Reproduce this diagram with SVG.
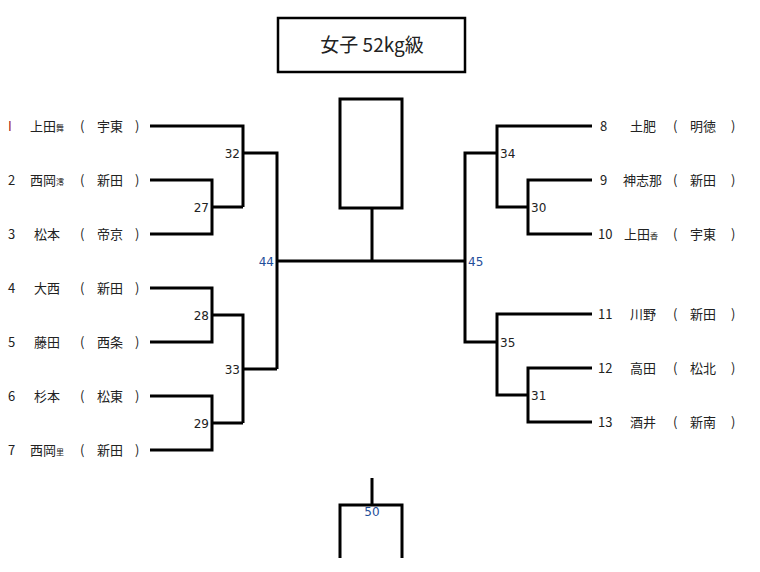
<svg xmlns="http://www.w3.org/2000/svg" width="760" height="572" viewBox="0 0 760 572">
<style>
.l{fill:none;stroke:#000;stroke-width:3}
text{font-family:"Noto Sans CJK JP","Liberation Sans",sans-serif;font-size:13px;fill:#222}
.s{font-size:8px}
.n{font-size:12px;font-family:"DejaVu Sans","Liberation Sans",sans-serif}
.b{fill:#1f4e9a}
</style>
<rect width="760" height="572" fill="#fff"/>
<g id="title"><rect x="278" y="18" width="187" height="54" fill="#fff" stroke="#000" stroke-width="2.5"/><text x="372" y="52" text-anchor="middle" style="font-size:19px">女子 52kg級</text></g>
<g id="winner"><rect x="340" y="99" width="62" height="109" fill="#fff" stroke="#000" stroke-width="3"/></g>
<g id="connectors">
<path class="l" d="M150 126H243V207M150 180H212V234H150M212 207H243M243 153H277V369M150 288H212V342H150M212 315H243V423M150 396H212V450H150M212 423H243M243 369H277M277 261H465M372 261V208"/>
<path class="l" d="M592 126H497V207H528M592 180H528V234H592M497 153H465V342H497M592 314H497V395H528M592 368H528V422H592"/>
<path class="l" d="M372 478V505M340 558V505H402V558"/>
</g>
<g id="labels">
<text x="8" y="131" fill="#a02020" style="fill:#a02020">I</text><text x="30" y="131">上田<tspan class="s">舞</tspan></text><text x="80" y="131">(</text><text x="97" y="131">宇東</text><text x="135" y="131">)</text>
<text x="8" y="185">2</text><text x="30" y="185">西岡<tspan class="s">澪</tspan></text><text x="80" y="185">(</text><text x="97" y="185">新田</text><text x="135" y="185">)</text>
<text x="8" y="239">3</text><text x="34" y="239">松本</text><text x="80" y="239">(</text><text x="97" y="239">帝京</text><text x="135" y="239">)</text>
<text x="8" y="293">4</text><text x="34" y="293">大西</text><text x="80" y="293">(</text><text x="97" y="293">新田</text><text x="135" y="293">)</text>
<text x="8" y="347">5</text><text x="34" y="347">藤田</text><text x="80" y="347">(</text><text x="97" y="347">西条</text><text x="135" y="347">)</text>
<text x="8" y="401">6</text><text x="34" y="401">杉本</text><text x="80" y="401">(</text><text x="97" y="401">松東</text><text x="135" y="401">)</text>
<text x="8" y="455">7</text><text x="30" y="455">西岡<tspan class="s">里</tspan></text><text x="80" y="455">(</text><text x="97" y="455">新田</text><text x="135" y="455">)</text>
<text x="600" y="131">8</text><text x="630" y="131">土肥</text><text x="673" y="131">(</text><text x="690" y="131">明徳</text><text x="731" y="131">)</text>
<text x="600" y="185">9</text><text x="623" y="185">神志那</text><text x="673" y="185">(</text><text x="690" y="185">新田</text><text x="731" y="185">)</text>
<text x="598" y="239">10</text><text x="624" y="239">上田<tspan class="s">香</tspan></text><text x="673" y="239">(</text><text x="690" y="239">宇東</text><text x="731" y="239">)</text>
<text x="598" y="319">11</text><text x="630" y="319">川野</text><text x="673" y="319">(</text><text x="690" y="319">新田</text><text x="731" y="319">)</text>
<text x="598" y="373">12</text><text x="630" y="373">高田</text><text x="673" y="373">(</text><text x="690" y="373">松北</text><text x="731" y="373">)</text>
<text x="598" y="427">13</text><text x="630" y="427">酒井</text><text x="673" y="427">(</text><text x="690" y="427">新南</text><text x="731" y="427">)</text>
</g>
<g id="nums">
<text class="n" x="240" y="158" text-anchor="end">32</text>
<text class="n" x="209" y="212" text-anchor="end">27</text>
<text class="n" x="209" y="320" text-anchor="end">28</text>
<text class="n" x="240" y="374" text-anchor="end">33</text>
<text class="n" x="209" y="428" text-anchor="end">29</text>
<text class="n b" x="274" y="266" text-anchor="end">44</text>
<text class="n b" x="468" y="266">45</text>
<text class="n" x="500" y="158">34</text>
<text class="n" x="531" y="212">30</text>
<text class="n" x="500" y="347">35</text>
<text class="n" x="531" y="400">31</text>
<text class="n b" x="372" y="516" text-anchor="middle">50</text>
</g>
</svg>
